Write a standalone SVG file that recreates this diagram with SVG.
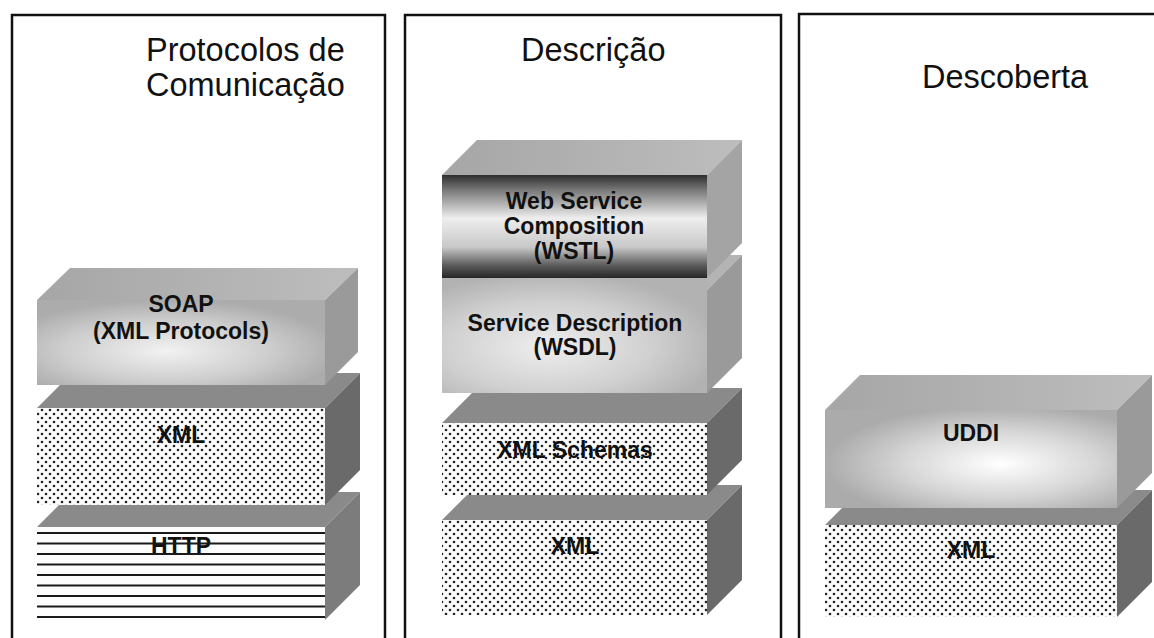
<svg xmlns="http://www.w3.org/2000/svg" width="1154" height="638" viewBox="0 0 1154 638">
  <style>
    .frame { fill: none; stroke: #111; stroke-width: 2.5; }
    .title { font-family: "Liberation Sans", Arial, sans-serif; font-size: 32.5px; fill: #111; }
    .lbl { font-family: "Liberation Sans", Arial, sans-serif; font-weight: bold; font-size: 23px; fill: #111; text-anchor: middle; }
    .dots { fill: url(#dotFill); }
    .topDark { fill: #8a8a8a; }
    .sideDark { fill: #6a6a6a; }
    .sideMid { fill: #9a9a9a; }
    .topLight { fill: #b4b4b4; }
    .hline { stroke: #1a1a1a; stroke-width: 2.2; }
  </style>
  <defs>
    <!-- staggered halftone dots for the XML layers -->
    <pattern id="dotFill" patternUnits="userSpaceOnUse" width="8" height="8">
      <rect width="8" height="8" fill="#fbfbfb"/>
      <circle cx="2" cy="2" r="1.3" fill="#222"/>
      <circle cx="6" cy="6" r="1.3" fill="#222"/>
    </pattern>
    <radialGradient id="gSoap" cx="0.45" cy="0.6" r="0.6">
      <stop offset="0" stop-color="#f2f2f2"/>
      <stop offset="0.6" stop-color="#cdcdcd"/>
      <stop offset="1" stop-color="#acacac"/>
    </radialGradient>
    <radialGradient id="gWsdl" cx="0.4" cy="0.6" r="0.65">
      <stop offset="0" stop-color="#eeeeee"/>
      <stop offset="0.6" stop-color="#d0d0d0"/>
      <stop offset="1" stop-color="#b2b2b2"/>
    </radialGradient>
    <radialGradient id="gUddi" cx="0.6" cy="0.55" r="0.6">
      <stop offset="0" stop-color="#ffffff"/>
      <stop offset="0.55" stop-color="#d6d6d6"/>
      <stop offset="1" stop-color="#ababab"/>
    </radialGradient>
    <linearGradient id="gWstl" x1="0" y1="0" x2="0" y2="1">
      <stop offset="0" stop-color="#2e2e2e"/>
      <stop offset="0.15" stop-color="#7a7a7a"/>
      <stop offset="0.42" stop-color="#eeeeee"/>
      <stop offset="0.7" stop-color="#c8c8c8"/>
      <stop offset="0.88" stop-color="#5a5a5a"/>
      <stop offset="1" stop-color="#262626"/>
    </linearGradient>
    <linearGradient id="gTop" x1="0" y1="0" x2="1" y2="0">
      <stop offset="0" stop-color="#a6a6a6"/>
      <stop offset="1" stop-color="#bdbdbd"/>
    </linearGradient>
  </defs>

  <!-- column frames (open at the bottom and, for the last one, at the right) -->
  <g id="frames">
    <path class="frame" d="M12,650 V15 H385 V650"/>
    <path class="frame" d="M405,650 V15 H781 V650"/>
    <path class="frame" d="M799,650 V14 H1160"/>
  </g>

  <g id="titles">
    <text class="title" x="146" y="61">Protocolos de</text>
    <text class="title" x="146" y="96">Comunicação</text>
    <text class="title" x="521" y="61">Descrição</text>
    <text class="title" x="922" y="88">Descoberta</text>
  </g>

  <!-- column 1: communication protocols -->
  <g id="http">
    <polygon class="topDark" points="37,527 325,527 360,492 72,492"/>
    <polygon fill="#7c7c7c" points="325,527 360,492 360,585 325,620"/>
    <rect x="37" y="527" width="288" height="93" fill="#fdfdfd"/>
    <text class="lbl" x="181" y="554">HTTP</text>
    <g class="hline">
      <line x1="37" y1="533" x2="325" y2="533"/>
      <line x1="37" y1="543.5" x2="325" y2="543.5"/>
      <line x1="37" y1="554" x2="325" y2="554"/>
      <line x1="37" y1="564.5" x2="325" y2="564.5"/>
      <line x1="37" y1="575" x2="325" y2="575"/>
      <line x1="37" y1="585.5" x2="325" y2="585.5"/>
      <line x1="37" y1="596" x2="325" y2="596"/>
      <line x1="37" y1="606.5" x2="325" y2="606.5"/>
      <line x1="37" y1="617" x2="325" y2="617"/>
    </g>
  </g>
  <g id="xml1">
    <polygon class="topDark" points="37,408 325,408 360,373 72,373"/>
    <polygon class="sideDark" points="325,408 360,373 360,470 325,505"/>
    <rect class="dots" x="37" y="408" width="288" height="97"/>
    <text class="lbl" x="181" y="443">XML</text>
  </g>
  <g id="soap">
    <polygon fill="url(#gTop)" points="37,300 325,300 358,268 70,268"/>
    <polygon class="sideMid" points="325,300 358,268 358,352 325,385"/>
    <rect x="37" y="300" width="288" height="85" fill="url(#gSoap)"/>
    <text class="lbl" x="181" y="312">SOAP</text>
    <text class="lbl" x="181" y="339">(XML Protocols)</text>
  </g>

  <!-- column 2: description -->
  <g id="xml2">
    <polygon class="topDark" points="442,520 707,520 742,485 477,485"/>
    <polygon class="sideDark" points="707,520 742,485 742,580 707,615"/>
    <rect class="dots" x="442" y="520" width="265" height="95"/>
    <text class="lbl" x="575" y="554">XML</text>
  </g>
  <g id="xml-schemas">
    <polygon class="topDark" points="442,423 707,423 742,388 477,388"/>
    <polygon class="sideDark" points="707,423 742,388 742,460 707,495"/>
    <rect class="dots" x="442" y="423" width="265" height="72"/>
    <text class="lbl" x="575" y="458">XML Schemas</text>
  </g>
  <g id="wsdl">
    <polygon class="topLight" points="442,290 707,290 742,255 477,255"/>
    <polygon class="sideMid" points="707,290 742,255 742,358 707,393"/>
    <rect x="442" y="278" width="265" height="115" fill="url(#gWsdl)"/>
    <text class="lbl" x="575" y="331">Service Description</text>
    <text class="lbl" x="575" y="355">(WSDL)</text>
  </g>
  <g id="wstl">
    <polygon fill="url(#gTop)" points="442,175 707,175 742,140 477,140"/>
    <polygon fill="#a4a4a4" points="707,175 742,140 742,243 707,278"/>
    <rect x="442" y="175" width="265" height="103" fill="url(#gWstl)"/>
    <text class="lbl" x="574" y="209">Web Service</text>
    <text class="lbl" x="574" y="234">Composition</text>
    <text class="lbl" x="574" y="259">(WSTL)</text>
  </g>

  <!-- column 3: discovery -->
  <g id="xml3">
    <polygon class="topDark" points="825,525 1117,525 1152,490 860,490"/>
    <polygon class="sideDark" points="1117,525 1152,490 1152,582 1117,617"/>
    <rect class="dots" x="825" y="525" width="292" height="92"/>
    <text class="lbl" x="971" y="558">XML</text>
  </g>
  <g id="uddi">
    <polygon fill="url(#gTop)" points="825,410 1117,410 1152,375 860,375"/>
    <polygon class="sideMid" points="1117,410 1152,375 1152,473 1117,508"/>
    <rect x="825" y="410" width="292" height="98" fill="url(#gUddi)"/>
    <text class="lbl" x="971" y="441">UDDI</text>
  </g>
</svg>
